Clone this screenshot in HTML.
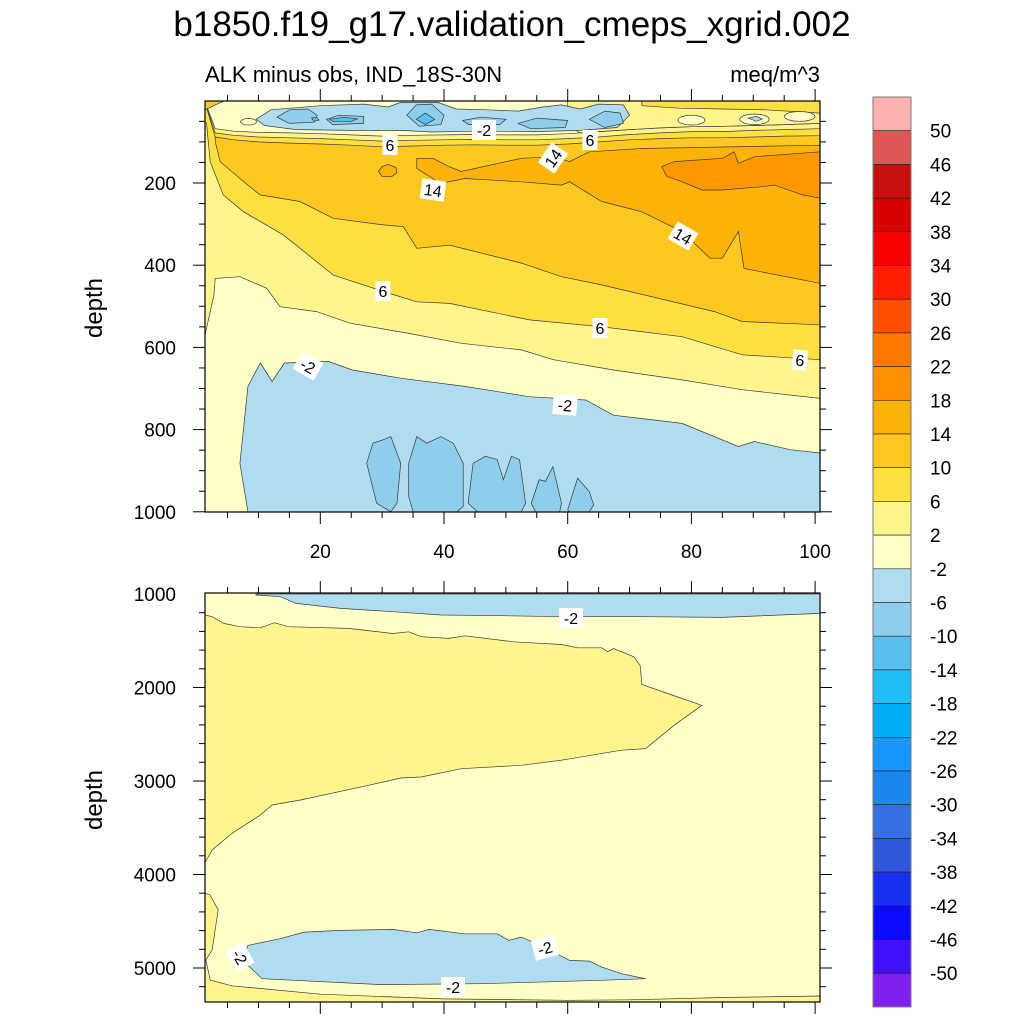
<!DOCTYPE html>
<html><head><meta charset="utf-8"><style>
body{margin:0;background:#fff;}
svg text{font-family:"Liberation Sans",sans-serif;fill:#000;}
</style></head><body>
<svg id="fig" width="1024" height="1024" viewBox="0 0 1024 1024" xmlns="http://www.w3.org/2000/svg">
<defs>
<clipPath id="clipTop"><rect x="205" y="101" width="615" height="411"/></clipPath>
<clipPath id="clipBot"><rect x="205" y="593" width="615" height="409"/></clipPath>
</defs>
<rect width="1024" height="1024" fill="#fff"/>
<text x="512" y="36" font-size="35" text-anchor="middle">b1850.f19_g17.validation_cmeps_xgrid.002</text>
<text x="205" y="82" font-size="22">ALK minus obs, IND_18S-30N</text>
<text x="820" y="82" font-size="22" text-anchor="end">meq/m^3</text>
<g id="topFill" clip-path="url(#clipTop)"></g>
<g id="botFill" clip-path="url(#clipBot)"></g>
<g id="labels"></g>
<g id="axes"></g>
<g id="cbar"></g>
<text transform="translate(102,308) rotate(-90)" font-size="24" text-anchor="middle">depth</text>
<text transform="translate(102,800) rotate(-90)" font-size="24" text-anchor="middle">depth</text>
</svg>
<script>
// ---- colour levels ----
const cbLevels = [50,46,42,38,34,30,26,22,18,14,10,6,2,-2,-6,-10,-14,-18,-22,-26,-30,-34,-38,-42,-46,-50];
const cbColors = ['#FFB0B0','#E05555','#C81010','#D80000','#F80000','#FF2000','#FF5000','#FF7800','#FF9000','#FFB20A','#FFC820','#FFE040','#FFF58C','#FFFFC8','#B0DCF2','#8ECDEB','#58C0EF','#22BEF7','#00AEF8','#1898FF','#1E86F0','#3470E4','#3058DC','#1830F0','#0A0AFF','#4010FF','#8020F0'];
const C = {n2:'#B0DCF2', n6:'#8ECDEB', n10:'#58C0EF', p0:'#FFFFC8', p2:'#FFF58C', p6:'#FFE040', p10:'#FFC820', p14:'#FFB20A', p18:'#FF9800'};

// ---- top panel data: isoline depths [x, depth] ----
const line2 = [[3,432],[7,428],[11.3,456],[13.5,501],[19.4,513],[24.8,541],[34.3,566],[42.8,590],[52.5,606],[57.7,630],[67.4,655],[78.5,679],[88.2,703],[100.8,724]];
const line6 = [[1.6,54],[2.2,148],[4.3,229],[7.6,270],[14,326],[22.1,424],[30.2,464],[35.6,489],[40.9,493],[53.8,533],[65.5,550],[78.5,574],[88.2,618],[100.8,630]];
const line10 = [[3,99],[3.8,148],[7,189],[10.25,229],[16.7,245],[22.1,286],[30.2,302],[33.4,306],[35.6,359],[40.9,351],[52.5,395],[59,428],[65.5,448],[83.7,513],[88.2,537],[100.8,545]];
const lineNeg2 = [[8.3,1000],[7,882],[8.3,695],[10.3,638],[12.2,683],[14.2,638],[21.3,634],[25.2,655],[33,675],[43.4,695],[53.8,720],[62.9,728],[67.4,765],[78.5,785],[87.6,841],[90.2,829],[96,849],[100.8,857],[100.8,1000]];
const upperX = [1.36,3,6,10,15,20,25,30,35,40,45,50,55,60,65,70,75,80,85,90,95,100.8];
const upper10 = [4,88,95,100,103,105,108,112,110,108,107,108,108,105,100,95,92,90,90,88,86,85];
const upper6 = [3,78,84,88,90,92,95,98,96,95,94,95,95,92,88,82,78,75,75,72,70,68];
const upper2 = [2,68,74,77,78,80,83,86,84,83,82,83,83,80,75,70,66,63,62,60,58,55];
const tongue14 = [[35.6,140],[38.2,140],[40.8,160],[42.8,172],[52.5,140],[57.7,136],[60.3,148],[63.5,124],[72,116],[100.8,108],[100.8,444],[88.5,408],[87.6,318],[85,383],[83,383],[78.5,318],[72,270],[65.5,245],[60.3,197],[59,205],[52.5,197],[43.4,189],[39.5,201],[38.2,189],[35.6,165]];
const circle14 = [[29.4,172],[30,160],[31,155],[32.2,162],[32.4,175],[31.5,185],[30,184]];
const patch18 = [[75.2,160],[77.2,148],[85,140],[86.9,124],[87.6,152],[90.2,136],[100.8,124],[100.8,237],[98,229],[93.4,205],[91.5,209],[85,217],[81.7,217],[78.5,197],[76,184]];
const surfRight2 = [[60,0],[100.8,0],[100.8,55],[95,58],[90,60],[85,62],[80,63],[75,66],[70,70],[65,75],[62,78],[60,60]];
const surfRight6 = [[72,0],[100.8,0],[100.8,30],[92,22],[85,20],[78,18],[72,12]];
const paleEllipses = [[80,47,2.2,12],[90.2,45,2.4,13],[97.5,38,2.5,12],[8.4,51,1.3,8]];
const cornerOrange = [[1.36,0],[4.5,0],[3,10],[1.36,22]];
const blueTop = [[9.6,45],[12,22],[20,12],[27,8],[31,15],[33,4],[39,4],[42,20],[47,22],[52,25],[56,15],[59,10],[62,20],[65,8],[69,10],[70,35],[68,65],[62,72],[55,75],[45,74],[38,76],[33,72],[25,72],[16,70],[11,60]];
const blueSmall = [[89.2,42],[90.5,38],[91.5,44],[90.5,50]];
const dark6 = [
 [[13,40],[15,22],[18,20],[19.5,35],[19,52],[15,55]],
 [[21,45],[23,35],[27,38],[27,55],[22,58]],
 [[34,35],[35.5,10],[38,8],[40,35],[39.5,58],[36,62]],
 [[43,48],[46,40],[50,45],[49,58],[44,58]],
 [[52,55],[55,42],[60,48],[59.6,65],[54,68]],
 [[63.5,45],[66,25],[68.5,30],[69,55],[66,65]]
];
const dark10 = [
 [[21.5,45],[24,40],[26,44],[25,50],[22,50]],
 [[35.5,45],[37,30],[38.5,45],[37,58]],
 [[18.6,42],[19.4,40],[19.8,47],[19,50]]
];
const blobs6 = [
 [[27.5,882],[28.5,833],[30.1,825],[31.4,817],[33,882],[32.4,979],[31.4,1000],[29.1,979]],
 [[34.3,882],[35.6,817],[37.2,833],[39.5,817],[41.5,833],[43.1,882],[43.1,987],[42.1,1000],[35,1000],[34.3,963]],
 [[44.7,882],[46.7,865],[48.6,873],[49.6,922],[50.9,865],[52.2,873],[53.2,979],[52.5,1000],[45.4,1000],[43.9,979]],
 [[54.1,979],[55.4,922],[56.4,926],[57.6,890],[59,979],[58.7,1000],[54.8,1000]],
 [[60,995],[61.6,918],[63.5,951],[64.2,983],[63.5,1000],[60.3,1000]]
];

// ---- bottom panel data ----
const botBlueTop = [[9.6,1000],[100.8,1000],[100.8,1207],[85,1250],[72,1243],[59,1243],[49.3,1232],[39.5,1225],[31.7,1189],[23.3,1154],[16.1,1100],[13.5,1029],[9.6,1011]];
const botYellow = [[1.36,1225],[2.5,1243],[4.4,1314],[7,1350],[10.3,1361],[12.6,1307],[14.8,1350],[24.6,1368],[31.7,1422],[34.3,1404],[36.3,1457],[40.8,1475],[43.4,1447],[51.2,1511],[59,1540],[61.6,1575],[65.5,1575],[66.5,1618],[67.4,1583],[70.7,1672],[71.7,1761],[72,1968],[78.5,2118],[81.7,2190],[77.2,2404],[72.6,2653],[68.7,2671],[59,2778],[52.5,2832],[42.8,2868],[36.3,2957],[33,2968],[27.8,3046],[16.8,3203],[12.2,3257],[10.3,3364],[5.7,3560],[2.5,3738],[1.3,3881]];
const botYellowBottom = [[1.36,4200],[2.2,4220],[3.5,4380],[2.5,4808],[1.5,4915],[2.2,5129],[5.7,5190],[20,5280],[40,5330],[60,5345],[70,5340],[85,5315],[100.8,5300],[100.8,5400],[1.36,5400]];
const botBlueLow = [[7.7,4865],[8.3,4758],[13.5,4687],[17.4,4616],[23.3,4598],[31.7,4587],[35.6,4623],[37.6,4587],[43.4,4634],[48.6,4634],[50.5,4705],[52.5,4669],[55.7,4758],[60.3,4919],[63.5,4926],[65.5,4990],[68.7,5061],[72.6,5114],[65.5,5132],[46,5168],[29.8,5178],[10.6,5114],[8.3,4972]];

// ---- tick data ----
const xTicksMajor = [20,40,60,80,100];
const topDepthTicks = [200,400,600,800,1000];
const botDepthTicks = [1000,2000,3000,4000,5000];

// ---- scales ----
const X = x => 196.6 + x*6.185;
const Yt = d => 100.8 + d*0.411;
const Yb = d => 594 + (d-1000)*0.0935;
const NS = 'http://www.w3.org/2000/svg';

function poly(g, pts, fill, Y, name, stroke=true){
  const p = document.createElementNS(NS,'polygon');
  p.setAttribute('points', pts.map(q=>X(q[0]).toFixed(1)+','+Y(q[1]).toFixed(1)).join(' '));
  p.setAttribute('fill', fill);
  if(stroke){p.setAttribute('stroke','#3a3a3a');p.setAttribute('stroke-width','0.7');}
  
  
  g.appendChild(p);
}
function addRect(g,x,y,w,h,fill,name){
  const r=document.createElementNS(NS,'rect');
  r.setAttribute('x',x);r.setAttribute('y',y);r.setAttribute('width',w);r.setAttribute('height',h);r.setAttribute('fill',fill);
  
  
  g.appendChild(r);
}
const topG = document.getElementById('topFill');
const botG = document.getElementById('botFill');

// top panel painting
addRect(topG,205,101,615,411,C.p0,'band-neg2-2');
poly(topG, [[1.36,0],[100.8,0]].concat(line2.slice().reverse()).concat([[2.8,473],[1.36,570]]), C.p2, Yt, 'band-2-6');
poly(topG, [[1.36,0],[100.8,0]].concat(line6.slice().reverse()).concat([[1.36,54]]), C.p6, Yt, 'band-6-10');
poly(topG, [[3,0],[100.8,0]].concat(line10.slice().reverse()), C.p10, Yt, 'band-10-14');
function upperPoly(arr){ return upperX.map((x,i)=>[x,arr[i]]).concat([[100.8,-5],[1.36,-5]]); }
poly(topG, upperPoly(upper10), C.p6, Yt, 'upper-band-6-10');
poly(topG, upperPoly(upper6), C.p2, Yt, 'upper-band-2-6');
poly(topG, upperPoly(upper2), C.p0, Yt, 'upper-band-neg2-2');
poly(topG, surfRight2, C.p2, Yt, 'surface-band-2-6');
poly(topG, surfRight6, C.p6, Yt, 'surface-band-6-10');
paleEllipses.forEach((e,i)=>{
  const pts=[]; for(let k=0;k<16;k++){const a=k/16*Math.PI*2; pts.push([e[0]+e[2]*Math.cos(a), e[1]+e[3]*Math.sin(a)]);}
  poly(topG, pts, C.p0, Yt, 'pale-patch-'+i);
});
poly(topG, cornerOrange, C.p10, Yt, 'corner-band-10-14');
poly(topG, blueTop, C.n2, Yt, 'surface-band-neg6-neg2');
poly(topG, blueSmall, C.n2, Yt, 'small-band-neg6-neg2');
dark6.forEach((b,i)=>poly(topG,b,C.n6,Yt,'surface-band-neg10-neg6-'+i));
dark10.forEach((b,i)=>poly(topG,b,C.n10,Yt,'surface-band-neg14-neg10-'+i));
poly(topG, tongue14, C.p14, Yt, 'band-14-18');
poly(topG, circle14, C.p14, Yt, 'band-14-18-small');
poly(topG, patch18, C.p18, Yt, 'band-18-22');
poly(topG, lineNeg2, C.n2, Yt, 'deep-band-neg6-neg2');
blobs6.forEach((b,i)=>poly(topG,b,C.n6,Yt,'deep-band-neg10-neg6-'+i));

// bottom panel painting
addRect(botG,205,593,615,409,C.p0,'bottom-band-neg2-2');
poly(botG, botBlueTop, C.n2, Yb, 'bottom-top-band-neg6-neg2');
poly(botG, botYellow, C.p2, Yb, 'bottom-band-2-6');
poly(botG, botYellowBottom, C.p2, Yb, 'bottom-floor-band-2-6');
poly(botG, botBlueLow, C.n2, Yb, 'bottom-deep-band-neg6-neg2');

// contour labels
const labelData = [
 ['6',390,145,0],['-2',484,130,0],['6',590,140,0],['14',553,158,-55],['14',433,190,8],['14',683,236,30],
 ['6',383,291,0],['6',600,328,0],['6',800,360,5],['-2',308,366,30],['-2',565,405,5],
 ['-2',571,618,0],['-2',240,957,60],['-2',545,948,-15],['-2',453,987,0]
];
const lg = document.getElementById('labels');
labelData.forEach((l,i)=>{
  const g=document.createElementNS(NS,'g');
  g.setAttribute('transform',`translate(${l[1]},${l[2]}) rotate(${l[3]})`);
  
  
  const w = l[0].length*9+6;
  const r=document.createElementNS(NS,'rect');
  r.setAttribute('x',-w/2);r.setAttribute('y',-10);r.setAttribute('width',w);r.setAttribute('height',20);r.setAttribute('fill','#fff');
  g.appendChild(r);
  const t=document.createElementNS(NS,'text');
  t.setAttribute('x',0);t.setAttribute('y',6);t.setAttribute('font-size','16');t.setAttribute('text-anchor','middle');
  t.textContent=l[0];
  g.appendChild(t);
  lg.appendChild(g);
});

// axes
const ax = document.getElementById('axes');
function addLine(x1,y1,x2,y2,w,name){
  const l=document.createElementNS(NS,'line');
  l.setAttribute('x1',x1);l.setAttribute('y1',y1);l.setAttribute('x2',x2);l.setAttribute('y2',y2);
  l.setAttribute('stroke','#000');l.setAttribute('stroke-width',w);
  
  
  ax.appendChild(l);
}
function addText(x,y,s,anchor,size,name){
  const t=document.createElementNS(NS,'text');
  t.setAttribute('x',x);t.setAttribute('y',y);t.setAttribute('font-size',size);t.setAttribute('text-anchor',anchor);
  t.textContent=s;
  
  
  ax.appendChild(t);
}
function frame(x0,y0,x1,y1,name){
  const r=document.createElementNS(NS,'rect');
  r.setAttribute('x',x0);r.setAttribute('y',y0);r.setAttribute('width',x1-x0);r.setAttribute('height',y1-y0);
  r.setAttribute('fill','none');r.setAttribute('stroke','#000');r.setAttribute('stroke-width','1.2');
  
  
  ax.appendChild(r);
}
frame(205,101,820,512,'top-plot-frame');
frame(205,593,820,1002,'bottom-plot-frame');
[[101,512],[593,1002]].forEach(([yt,yb])=>{
  for(let x=5;x<=100;x+=5){
    const major = x%20===0; const L = major?12:6; const px=X(x);
    addLine(px,yt,px,yt-L,1,'x-tick-top');
    addLine(px,yb,px,yb+L,1,'x-tick-bottom');
  }
});
xTicksMajor.forEach(v=>addText(X(v),558,String(v),'middle',19,'x-tick-label'));
for(let d=50;d<=1000;d+=50){
  const major=d%200===0; const L=major?12:6; const py=Yt(d);
  addLine(205,py,205-L,py,1,'y-tick-top-left'); addLine(820,py,820+L,py,1,'y-tick-top-right');
}
topDepthTicks.forEach(v=>addText(176,Yt(v)+7,String(v),'end',19,'y-tick-label-top'));
for(let d=1200;d<=5300;d+=200){
  const major=d%1000===0; const L=major?12:6; const py=Yb(d);
  addLine(205,py,205-L,py,1,'y-tick-bottom-left'); addLine(820,py,820+L,py,1,'y-tick-bottom-right');
}
botDepthTicks.forEach(v=>addText(176,Yb(v)+7,String(v),'end',19,'y-tick-label-bottom'));

// colorbar
const cb = document.getElementById('cbar');
const cbTop=97, cbH=33.7;
cbColors.forEach((c,i)=>{
  const r=document.createElementNS(NS,'rect');
  r.setAttribute('x',873);r.setAttribute('y',cbTop+i*cbH);r.setAttribute('width',38);r.setAttribute('height',cbH);
  r.setAttribute('fill',c);r.setAttribute('stroke','#222');r.setAttribute('stroke-width','0.6');
  
  
  cb.appendChild(r);
});
cbLevels.forEach((v,i)=>{
  const t=document.createElementNS(NS,'text');
  t.setAttribute('x',930);t.setAttribute('y',cbTop+(i+1)*cbH+7);t.setAttribute('font-size','19');
  t.textContent=String(v);
  
  
  cb.appendChild(t);
});
const fr=document.createElementNS(NS,'rect');
fr.setAttribute('x',873);fr.setAttribute('y',cbTop);fr.setAttribute('width',38);fr.setAttribute('height',cbH*27);
fr.setAttribute('fill','none');fr.setAttribute('stroke','#777');fr.setAttribute('stroke-width','1');


cb.appendChild(fr);
</script>
</body></html>
